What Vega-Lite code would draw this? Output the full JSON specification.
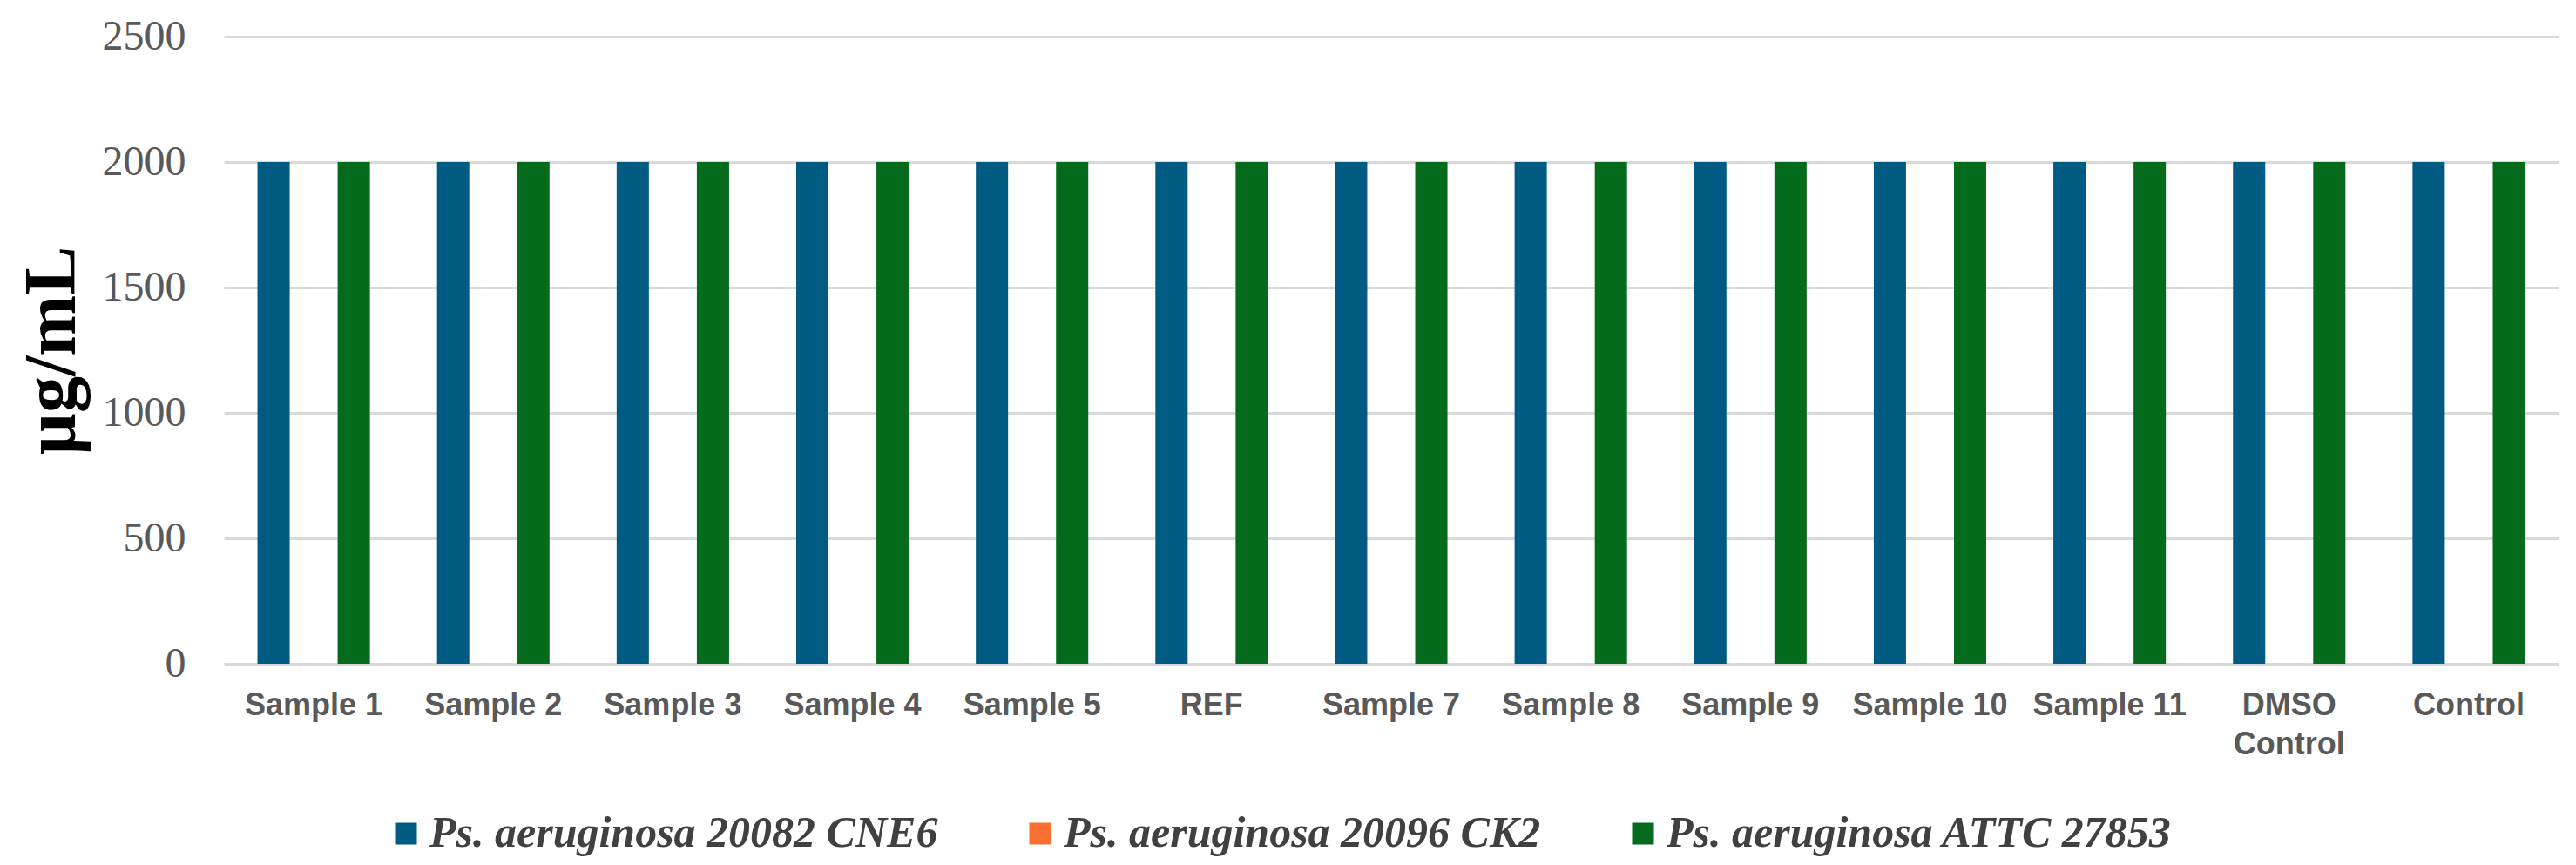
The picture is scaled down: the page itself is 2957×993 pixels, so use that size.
{
  "$schema": "https://vega.github.io/schema/vega-lite/v6.json",
  "description": "MIC of samples against three Ps. aeruginosa strains",
  "autosize": "none",
  "width": 2680,
  "height": 720,
  "padding": {"left": 257, "top": 42, "right": 20, "bottom": 231},
  "background": "white",
  "data": {
    "values": [
      {"sample": "Sample 1", "strain": "Ps. aeruginosa 20082 CNE6", "mic": 2000},
      {"sample": "Sample 1", "strain": "Ps. aeruginosa 20096 CK2", "mic": 0},
      {"sample": "Sample 1", "strain": "Ps. aeruginosa ATTC 27853", "mic": 2000},
      {"sample": "Sample 2", "strain": "Ps. aeruginosa 20082 CNE6", "mic": 2000},
      {"sample": "Sample 2", "strain": "Ps. aeruginosa 20096 CK2", "mic": 0},
      {"sample": "Sample 2", "strain": "Ps. aeruginosa ATTC 27853", "mic": 2000},
      {"sample": "Sample 3", "strain": "Ps. aeruginosa 20082 CNE6", "mic": 2000},
      {"sample": "Sample 3", "strain": "Ps. aeruginosa 20096 CK2", "mic": 0},
      {"sample": "Sample 3", "strain": "Ps. aeruginosa ATTC 27853", "mic": 2000},
      {"sample": "Sample 4", "strain": "Ps. aeruginosa 20082 CNE6", "mic": 2000},
      {"sample": "Sample 4", "strain": "Ps. aeruginosa 20096 CK2", "mic": 0},
      {"sample": "Sample 4", "strain": "Ps. aeruginosa ATTC 27853", "mic": 2000},
      {"sample": "Sample 5", "strain": "Ps. aeruginosa 20082 CNE6", "mic": 2000},
      {"sample": "Sample 5", "strain": "Ps. aeruginosa 20096 CK2", "mic": 0},
      {"sample": "Sample 5", "strain": "Ps. aeruginosa ATTC 27853", "mic": 2000},
      {"sample": "REF", "strain": "Ps. aeruginosa 20082 CNE6", "mic": 2000},
      {"sample": "REF", "strain": "Ps. aeruginosa 20096 CK2", "mic": 0},
      {"sample": "REF", "strain": "Ps. aeruginosa ATTC 27853", "mic": 2000},
      {"sample": "Sample 7", "strain": "Ps. aeruginosa 20082 CNE6", "mic": 2000},
      {"sample": "Sample 7", "strain": "Ps. aeruginosa 20096 CK2", "mic": 0},
      {"sample": "Sample 7", "strain": "Ps. aeruginosa ATTC 27853", "mic": 2000},
      {"sample": "Sample 8", "strain": "Ps. aeruginosa 20082 CNE6", "mic": 2000},
      {"sample": "Sample 8", "strain": "Ps. aeruginosa 20096 CK2", "mic": 0},
      {"sample": "Sample 8", "strain": "Ps. aeruginosa ATTC 27853", "mic": 2000},
      {"sample": "Sample 9", "strain": "Ps. aeruginosa 20082 CNE6", "mic": 2000},
      {"sample": "Sample 9", "strain": "Ps. aeruginosa 20096 CK2", "mic": 0},
      {"sample": "Sample 9", "strain": "Ps. aeruginosa ATTC 27853", "mic": 2000},
      {"sample": "Sample 10", "strain": "Ps. aeruginosa 20082 CNE6", "mic": 2000},
      {"sample": "Sample 10", "strain": "Ps. aeruginosa 20096 CK2", "mic": 0},
      {"sample": "Sample 10", "strain": "Ps. aeruginosa ATTC 27853", "mic": 2000},
      {"sample": "Sample 11", "strain": "Ps. aeruginosa 20082 CNE6", "mic": 2000},
      {"sample": "Sample 11", "strain": "Ps. aeruginosa 20096 CK2", "mic": 0},
      {"sample": "Sample 11", "strain": "Ps. aeruginosa ATTC 27853", "mic": 2000},
      {"sample": "DMSO Control", "strain": "Ps. aeruginosa 20082 CNE6", "mic": 2000},
      {"sample": "DMSO Control", "strain": "Ps. aeruginosa 20096 CK2", "mic": 0},
      {"sample": "DMSO Control", "strain": "Ps. aeruginosa ATTC 27853", "mic": 2000},
      {"sample": "Control", "strain": "Ps. aeruginosa 20082 CNE6", "mic": 2000},
      {"sample": "Control", "strain": "Ps. aeruginosa 20096 CK2", "mic": 0},
      {"sample": "Control", "strain": "Ps. aeruginosa ATTC 27853", "mic": 2000}
    ]
  },
  "mark": {"type": "bar"},
  "encoding": {
    "x": {
      "field": "sample",
      "type": "nominal",
      "sort": null,
      "scale": {"paddingInner": 0, "paddingOuter": 0},
      "axis": {
        "title": null,
        "labelAngle": 0,
        "labelFont": "Liberation Sans",
        "labelFontWeight": "bold",
        "labelFontSize": 36,
        "labelColor": "#595959",
        "labelPadding": 30,
        "labelLineHeight": 45,
        "labelExpr": "datum.label == 'DMSO Control' ? ['DMSO', 'Control'] : datum.label",
        "ticks": false,
        "domain": false
      }
    },
    "xOffset": {
      "field": "strain",
      "type": "nominal",
      "scale": {"paddingInner": 0.196, "paddingOuter": 0.837}
    },
    "y": {
      "field": "mic",
      "type": "quantitative",
      "scale": {"domain": [0, 2500]},
      "axis": {
        "title": "µg/mL",
        "titleFont": "Liberation Serif",
        "titleFontWeight": "bold",
        "titleFontSize": 84,
        "titleColor": "black",
        "titlePadding": 14,
        "values": [0, 500, 1000, 1500, 2000, 2500],
        "format": "d",
        "labelFont": "Liberation Serif",
        "labelFontSize": 48,
        "labelColor": "#595959",
        "labelPadding": 44,
        "ticks": false,
        "domain": false,
        "grid": true,
        "gridColor": "#d9d9d9",
        "gridWidth": 3
      }
    },
    "color": {
      "field": "strain",
      "type": "nominal",
      "scale": {
        "domain": ["Ps. aeruginosa 20082 CNE6", "Ps. aeruginosa 20096 CK2", "Ps. aeruginosa ATTC 27853"],
        "range": ["#005b82", "#f97030", "#036b1b"]
      },
      "legend": {
        "title": null,
        "orient": "none",
        "direction": "horizontal",
        "legendX": 184,
        "legendY": 890,
        "padding": 0,
        "symbolType": "square",
        "symbolSize": 625,
        "symbolStrokeWidth": 0,
        "symbolOpacity": 1,
        "labelFont": "Liberation Serif",
        "labelFontStyle": "italic",
        "labelFontWeight": "bold",
        "labelFontSize": 50,
        "labelColor": "#404040",
        "labelOffset": 2,
        "labelLimit": 1000,
        "columnPadding": 92
      }
    }
  },
  "config": {
    "view": {"stroke": null}
  }
}
